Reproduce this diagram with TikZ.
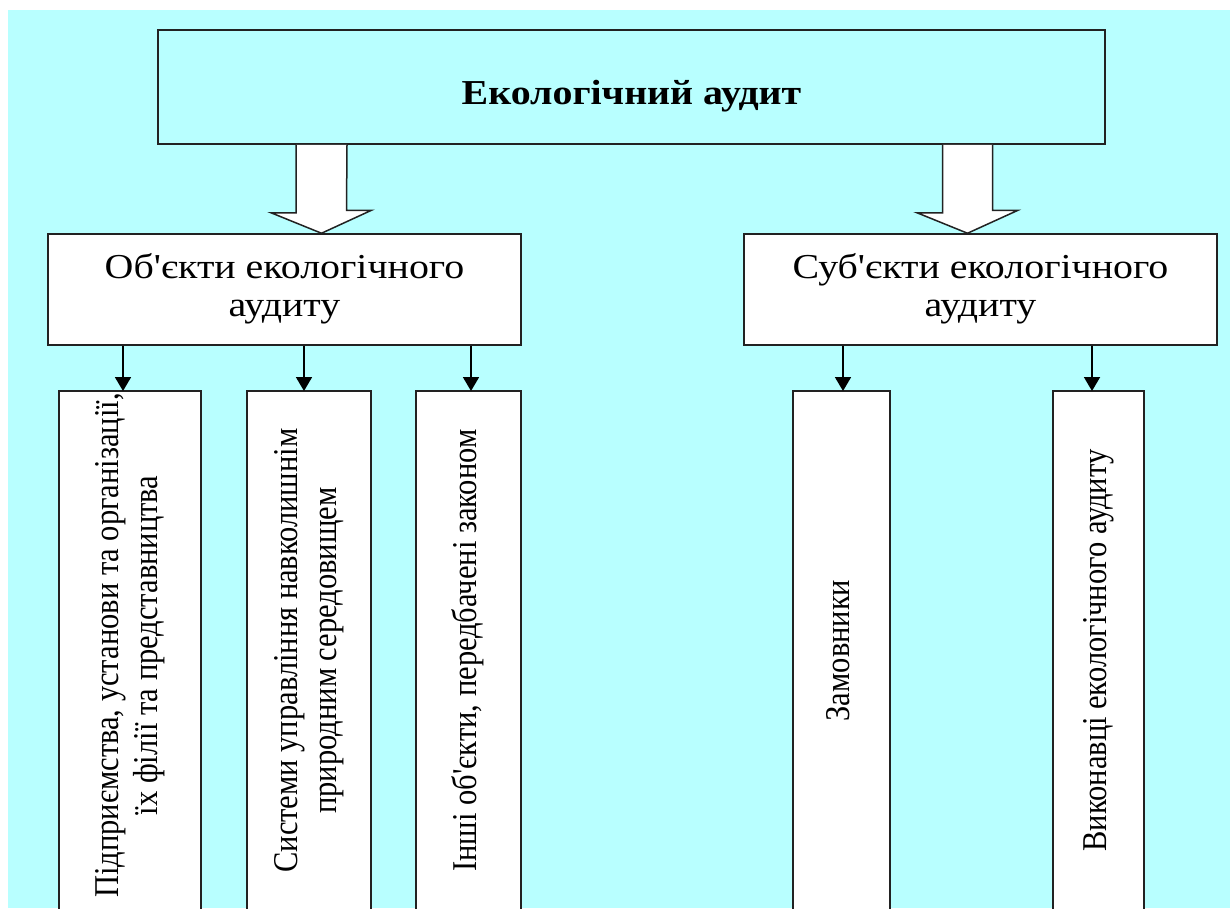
\documentclass[tikz,border=0pt]{standalone}
\usepackage{fontspec}
\setmainfont{Liberation Serif}
\usetikzlibrary{arrows.meta}
\definecolor{bgcyan}{HTML}{B8FFFF}
\definecolor{edge}{HTML}{222222}
\newcommand{\htext}[1]{\scalebox{1.14}[1]{\begin{tabular}{@{}c@{}}#1\end{tabular}}}
\newcommand{\vtext}[2]{\hspace*{#1}\scalebox{1}[1.14]{\begin{tabular}{@{}c@{}}#2\end{tabular}}}
\begin{document}
\begin{tikzpicture}[x=1pt,y=-1pt,
  box/.style={draw=edge, line width=1.5pt, fill=white, inner sep=0pt,
    font=\fontsize{35}{38}\selectfont},
  vbox/.style={box, rotate=90, minimum width=519pt, minimum height=#1,
    font=\fontsize{30.5}{35}\selectfont},
  arr/.style={draw=black, line width=1.8pt, -{Triangle[width=16pt,length=14pt]}},
  bigarrow/.style={draw=edge, line width=1.5pt, fill=white, line join=miter}]
\useasboundingbox (0,0) rectangle (1230,908);
\clip (0,0) rectangle (1230,908);
\fill[bgcyan] (8,10) rectangle (1230,908);

\node[box, fill=bgcyan, minimum width=947pt, minimum height=114pt,
  font=\fontsize{35}{38}\selectfont\bfseries] (main) at (631.5,87)
  {\rule{0pt}{46pt}\htext{Екологічний аудит}};

\node[box, minimum width=473pt, minimum height=111pt] (obj) at (284.5,289.5)
  {\htext{Об\textquotesingle єкти екологічного\\аудиту}};
\node[box, minimum width=473pt, minimum height=111pt] (subj) at (980.5,289.5)
  {\htext{Суб\textquotesingle єкти екологічного\\аудиту}};

% big block arrows
\coordinate (la) at (321.5,234);
\coordinate (ra) at (967.5,234);
\draw[bigarrow] ([xshift=-25.5pt]main.south -| la) -- ++(0,68) -- ++(-25,0)
  -- (obj.north -| la) -- ++(50,-23) -- ++(-25,0) -- ([xshift=25.5pt]main.south -| la);
\draw[bigarrow] ([xshift=-25pt]main.south -| ra) -- ++(0,68) -- ++(-25.5,0)
  -- (subj.north -| ra) -- ++(50.5,-23) -- ++(-25.5,0) -- ([xshift=25pt]main.south -| ra);

% lower boxes
\node[vbox=142pt] (b1) at (130,650.5) {\vtext{10pt}{Підприємства, установи та організації,\\їх філії та представництва}};
\node[vbox=124pt] (b2) at (309,650.5) {\vtext{0pt}{Системи управління навколишнім\\природним середовищем}};
\node[vbox=105pt] (b3) at (468.5,650.5) {\vtext{0pt}{Інші об\textquotesingle єкти, передбачені законом}};
\node[vbox=97pt] (b4) at (841.5,650.5) {\vtext{0pt}{Замовники}};
\node[vbox=91pt] (b5) at (1098.5,650.5) {\vtext{0pt}{Виконавці екологічного аудиту}};

\coordinate (t1) at (123,391);
\coordinate (t2) at (304,391);
\coordinate (t3) at (471,391);
\coordinate (t4) at (843,391);
\coordinate (t5) at (1092,391);
\foreach \t in {t1,t2,t3} \draw[arr] (obj.south -| \t) -- (\t);
\foreach \t in {t4,t5} \draw[arr] (subj.south -| \t) -- (\t);
\end{tikzpicture}
\end{document}
